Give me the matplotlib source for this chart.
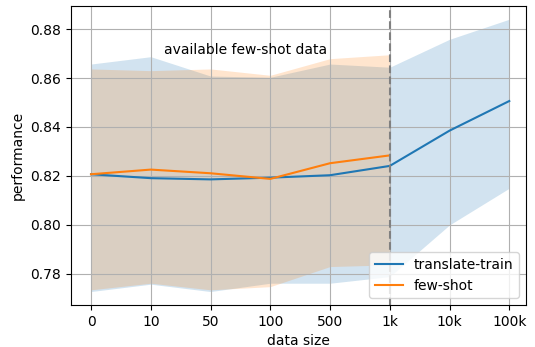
import numpy as np
import matplotlib
matplotlib.use('Agg')
import matplotlib.pyplot as plt

# data sizes on the x axis
sizes = ['0', '10', '50', '100', '500', '1k', '10k', '100k']

# translate-train: mean and band
tt_mean = [0.8207, 0.8191, 0.8186, 0.8193, 0.8203, 0.8241, 0.8385, 0.8506]
tt_low = [0.7728, 0.7758, 0.7728, 0.7762, 0.7762, 0.7789, 0.8000, 0.8150]
tt_high = [0.8657, 0.8687, 0.8608, 0.8603, 0.8657, 0.8644, 0.8758, 0.8840]

# few-shot: only up to 1k
fs_mean = [0.8207, 0.8226, 0.8211, 0.8188, 0.8252, 0.8284]
fs_low = [0.7735, 0.7762, 0.7735, 0.7748, 0.7830, 0.7837]
fs_high = [0.8637, 0.8630, 0.8637, 0.8611, 0.8679, 0.8695]

x = np.arange(len(sizes))
xf = x[:len(fs_mean)]

fig = plt.figure(figsize=(5.35, 3.47), dpi=100)
ax = fig.add_axes([0.1327, 0.121, 0.8505, 0.8617])

ax.plot(x, tt_mean, color='C0', label='translate-train')
ax.fill_between(x, tt_low, tt_high, color='C0', alpha=0.2, linewidth=0)
ax.plot(xf, fs_mean, color='C1', label='few-shot')
ax.fill_between(xf, fs_low, fs_high, color='C1', alpha=0.2, linewidth=0)

ax.axvline(5, color='gray', linestyle='--')  # end of few-shot data
ax.text(2.58, 0.8714, 'available few-shot data', ha='center', va='center')

ax.set_xticks(x)
ax.set_xticklabels(sizes)
ax.set_ylim(0.7673, 0.8894)
ax.set_xlim(-0.335, 7.28)
ax.grid(True)
ax.set_xlabel('data size')
ax.set_ylabel('performance')
ax.legend(loc='lower right')

fig.savefig('out.png', dpi=100)
